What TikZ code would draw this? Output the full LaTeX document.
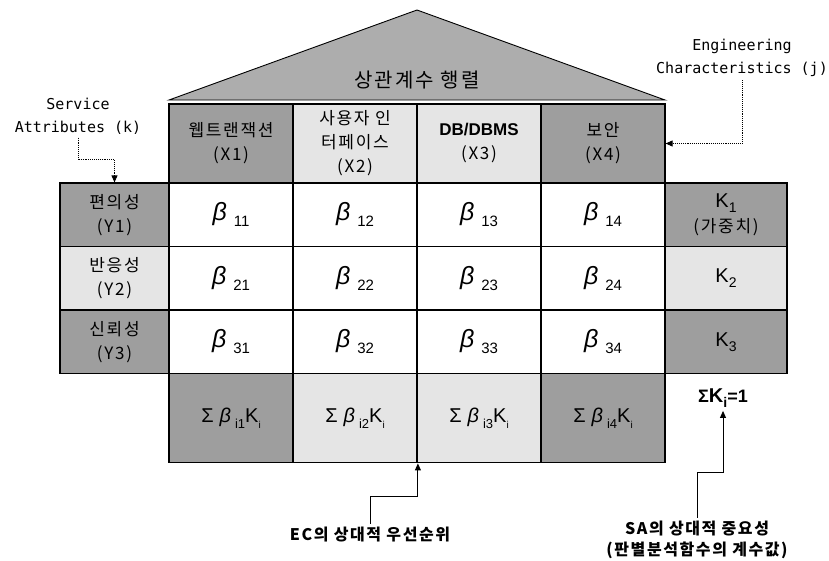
\documentclass[tikz,border=0pt]{standalone}
\usepackage{fontspec}
\setmainfont{Noto Sans CJK KR}[LetterSpace=10]
\setmonofont{DejaVu Sans Mono}
\newfontfamily\arl{Liberation Sans}
\usetikzlibrary{arrows.meta, positioning}
\newcommand{\bt}[1]{{\arl\fontsize{25}{25}\selectfont\itshape β}\hspace{7pt}\raisebox{-6pt}{\arl\fontsize{15}{15}\selectfont #1}}
\newcommand{\sm}[1]{{\arl\fontsize{20}{20}\selectfont Σ\hspace{6pt}{\itshape β}\hspace{4pt}\raisebox{-6pt}{\fontsize{13}{13}\selectfont i#1}K\raisebox{-6pt}{\fontsize{10}{10}\selectfont i}}}
\newcommand{\kk}[1]{{\arl\fontsize{20}{20}\selectfont K\raisebox{-5pt}{\fontsize{14}{14}\selectfont #1}}}

\begin{document}
\begin{tikzpicture}[x=1pt,y=-1pt,
  cell/.style={draw,line width=1.2pt,minimum width=124pt,minimum height=63.5pt,inner sep=0pt,align=center,
    font=\fontsize{17}{24}\selectfont},
  head/.style={cell,minimum height=79pt},
  side/.style={cell,minimum width=109pt},
  wt/.style={cell,minimum width=122pt},
  foot/.style={cell,minimum height=89pt,line width=1.8pt},
  dark/.style={fill=black!38},
  light/.style={fill=black!10},
  mono/.style={align=center,font=\ttfamily\fontsize{15}{23}\selectfont},
  lbl/.style={align=center,font=\bfseries\fontsize{16}{21}\selectfont},
  dots/.style={densely dotted,line width=0.9pt,-{Triangle[length=7pt,width=6pt]}},
  arr/.style={line width=0.9pt,-{Triangle[length=7pt,width=6pt]}}]
\useasboundingbox (0,0) rectangle (829,560);
\draw[fill=black!32,line width=0.9pt] (169,100) -- (417,10) -- (665,100) -- cycle;
\node[font=\fontsize{20}{20}\selectfont] (roof) at (417,80) {상관계수 행렬};
\node[head,dark] (x1) at (231,143.5) {웹트랜잭션\\(X1)};
\node[head,light] (x2) at (355,143.5) {사용자 인\\터페이스\\(X2)};
\node[head,light] (x3) at (479,143.5) {\bfseries\arl DB/DBMS\\(X3)};
\node[head,dark] (x4) at (603,143.5) {보안\\(X4)};
\node[side,dark] (y1) at (114.5,214.75) {편의성\\(Y1)};
\node[side,light] (y2) at (114.5,278.25) {반응성\\(Y2)};
\node[side,dark] (y3) at (114.5,341.75) {신뢰성\\(Y3)};
\node[cell] (b11) at (231,214.75) {\bt{11}};
\node[cell] (b12) at (355,214.75) {\bt{12}};
\node[cell] (b13) at (479,214.75) {\bt{13}};
\node[cell] (b14) at (603,214.75) {\bt{14}};
\node[cell] (b21) at (231,278.25) {\bt{21}};
\node[cell] (b22) at (355,278.25) {\bt{22}};
\node[cell] (b23) at (479,278.25) {\bt{23}};
\node[cell] (b24) at (603,278.25) {\bt{24}};
\node[cell] (b31) at (231,341.75) {\bt{31}};
\node[cell] (b32) at (355,341.75) {\bt{32}};
\node[cell] (b33) at (479,341.75) {\bt{33}};
\node[cell] (b34) at (603,341.75) {\bt{34}};
\node[wt,dark,font=\fontsize{17}{25}\selectfont] (k1) at (726,214.75) {\kk{1}\\(가중치)};
\node[wt,light] (k2) at (726,278.25) {\kk{2}};
\node[wt,dark] (k3) at (726,341.75) {\kk{3}};
\node[foot,dark] (s1) at (231,418) {\sm{1}};
\node[foot,light] (s2) at (355,418) {\sm{2}};
\node[foot,light] (s3) at (479,418) {\sm{3}};
\node[foot,dark] (s4) at (603,418) {\sm{4}};
\node[font=\arl\bfseries\fontsize{18}{18}\selectfont] (sk) at (723,398) {Σ\kk{i}=1};
\node[mono] (sak) at (78,116) {Service\\Attributes (k)};
\node[mono] (ecj) at (742,58) {Engineering\\Characteristics (j)};
\node[lbl] (ec) at (370,535) {EC의 상대적 우선순위};
\node[lbl] (sal) at (697,540) {SA의 상대적 중요성\\(판별분석함수의 계수값)};
\draw[dots] (sak.south) -- ++(0,22) -| (y1.north);
\draw[dots] (ecj.south) |- (x4.east);
\draw[arr] (ec.north) -- ++(0,-27) -| (s2.south east);
\draw[arr] (sal.north) -- ++(0,-45) -| (sk.south);
\end{tikzpicture}
\end{document}
